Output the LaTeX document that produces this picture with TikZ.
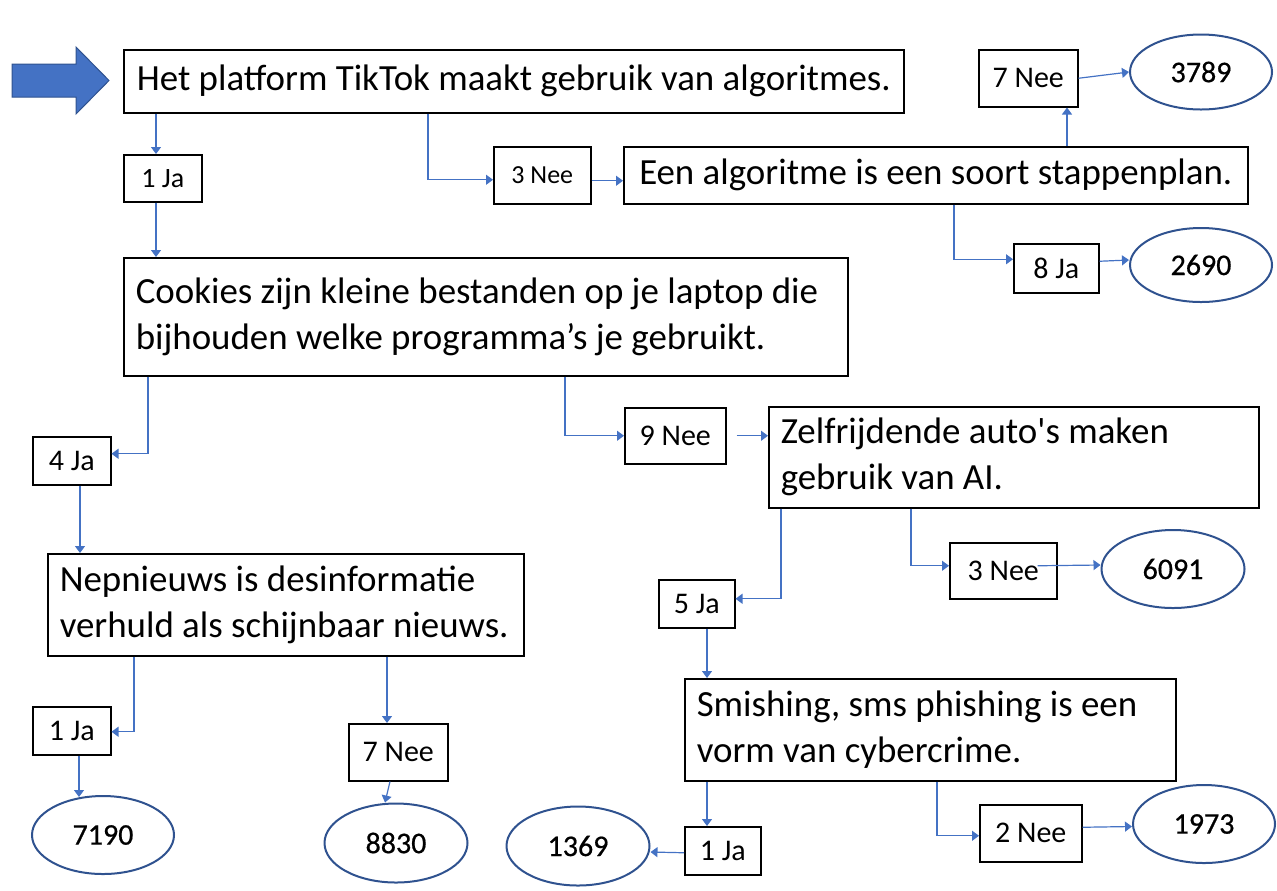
\documentclass[tikz,border=0pt]{standalone}
\usepackage{fontspec}
\setmainfont{Carlito}
\newfontfamily\codefont[FakeBold=0.6]{Carlito}
\usetikzlibrary{calc,shapes.geometric,arrows.meta}
\definecolor{linkblue}{HTML}{4472C4}
\definecolor{ovalblue}{HTML}{2F528F}
\begin{document}
\begin{tikzpicture}[x=0.5pt,y=-0.5pt,
  wide/.style 2 args={minimum width=#1*0.5pt, minimum height=#2*0.5pt},
  statement/.style={draw=black, line width=0.75pt, inner xsep=6pt, inner ysep=0pt,
    anchor=north west, font=\fontsize{18.45}{23}\selectfont},
  twoline/.style={text width=#1, align=flush left},
  labelbox/.style={draw=black, line width=0.75pt, inner sep=0pt, anchor=north west,
    font=\fontsize{15}{18}\selectfont},
  oval/.style={ellipse, draw=ovalblue, line width=1pt, inner sep=0pt,
    font=\codefont\fontsize{15}{18}\selectfont},
  conn/.style={draw=linkblue, line width=0.6pt, -{Triangle[length=3.5pt,width=5pt]}}
]
\useasboundingbox (0,0) rectangle (1277,890);

% start arrow
\draw[fill=linkblue, draw=ovalblue, line width=0.5pt]
  (12,64) -- (76,64) -- (76,47) -- (109,80.5) -- (76,114) -- (76,97) -- (12,97) -- cycle;

% statements, answers and codes
\node[statement, wide={780}{63}] (tiktok) at (123,49) {Het platform TikTok maakt gebruik van algoritmes.};
\node[labelbox, wide={78}{47}, font=\fontsize{14}{17}\selectfont] (ja1) at (123,154) {1 Ja};
\node[labelbox, wide={97}{57}, font=\fontsize{13}{16}\selectfont] (nee3a) at (493,146) {3 Nee};
\node[statement, wide={624}{57}] (algo) at (623,146) {Een algoritme is een soort stappenplan.};
\node[labelbox, wide={99}{57}] (nee7a) at (978,49) {7 Nee};
\node[oval, wide={142}{75}] (n3789) at (1201,72) {3789};
\node[labelbox, wide={85}{49}] (ja8) at (1013,243) {8 Ja};
\node[oval, wide={142}{74}] (n2690) at (1201,265) {2690};
\node[statement, wide={724}{118}, twoline=350pt] (cookies) at (123,257)
  {Cookies zijn kleine bestanden op je laptop die\\bijhouden welke programma’s je gebruikt.};
\node[labelbox, wide={78}{48}] (ja4) at (32,436) {4 Ja};
\node[statement, wide={476}{102}, twoline=226pt] (nep) at (47,553)
  {Nepnieuws is desinformatie\\verhuld als schijnbaar nieuws.};
\node[labelbox, wide={78}{48}] (ja1b) at (32,706) {1 Ja};
\node[oval, wide={142}{78}] (n7190) at (103,835) {7190};
\node[labelbox, wide={99}{57}] (nee7b) at (348,723) {7 Nee};
\node[oval, wide={143}{79}] (n8830) at (396,843) {8830};
\node[labelbox, wide={101}{56}] (nee9) at (624,407) {9 Nee};
\node[statement, wide={490}{101}, twoline=233pt] (auto) at (768,406)
  {Zelfrijdende auto\textquotesingle s maken\\gebruik van AI.};
\node[labelbox, wide={76}{48}] (ja5) at (658,579) {5 Ja};
\node[labelbox, wide={107}{56}] (nee3b) at (949,542) {3 Nee};
\node[oval, wide={143}{78}] (n6091) at (1173,569) {6091};
\node[statement, wide={491}{102}, twoline=233.5pt] (smish) at (684,678)
  {Smishing, sms phishing is een\\vorm van cybercrime.};
\node[labelbox, wide={76}{48}] (ja1c) at (684,826) {1 Ja};
\node[oval, wide={143}{79}] (n1369) at (578,846) {1369};
\node[labelbox, wide={102}{57}] (nee2) at (979,804) {2 Nee};
\node[oval, wide={142}{78}] (n1973) at (1204,824) {1973};

% connectors
\draw[conn] ($(tiktok.south west)+(33,0)$) -- ($(ja1.north west)+(33,0)$);
\draw[conn] ($(tiktok.south west)+(305,0)$) |- ($(nee3a.west)+(0,4.5)$);
\draw[conn] ($(nee3a.east)+(0,5.5)$) -- ($(algo.west)+(0,5.5)$);
\draw[conn] ($(algo.north west)+(444,0)$) -- ($(nee7a.south west)+(89,0)$);
\draw[conn] (nee7a.east) -- (n3789.west);
\draw[conn] ($(algo.south west)+(331,0)$) |- ($(ja8.west)+(0,-9)$);
\draw[conn] ($(ja8.east)+(0,-7)$) -- ($(n2690.west)+(0,-5)$);
\draw[conn] ($(ja1.south west)+(33,0)$) -- ($(cookies.north west)+(33,0)$);
\draw[conn] ($(cookies.south west)+(25,0)$) |- ($(ja4.east)+(0,-7)$);
\draw[conn] ($(ja4.south west)+(48,0)$) -- ($(nep.north west)+(33,0)$);
\draw[conn] ($(nep.south west)+(87,0)$) |- ($(ja1b.east)+(0,1)$);
\draw[conn] ($(ja1b.south west)+(47,0)$) -- ($(n7190.north)+(-24,2)$);
\draw[conn] ($(nep.south west)+(340,0)$) -- ($(nee7b.north west)+(39,0)$);
\draw[conn] ($(nee7b.south west)+(42,0)$) -- ($(n8830.north)+(-11,0)$);
\draw[conn] ($(cookies.south west)+(442,0)$) |- (nee9.west);
\draw[conn] ($(nee9.east)+(10,0)$) -- ($(auto.west)+(0,-21.5)$);
\draw[conn] ($(auto.south west)+(13,0)$) |- ($(ja5.east)+(0,-5)$);
\draw[conn] ($(auto.south west)+(143,0)$) |- ($(nee3b.west)+(0,-5)$);
\draw[conn] ($(nee3b.east)+(-20,-5)$) -- ($(n6091.west)+(0,-4)$);
\draw[conn] ($(ja5.south west)+(49,0)$) -- ($(smish.north west)+(23,0)$);
\draw[conn] ($(smish.south west)+(23,0)$) -- ($(ja1c.north west)+(23,0)$);
\draw[conn] ($(ja1c.west)+(0,2)$) -- ($(n1369.east)+(0,6)$);
\draw[conn] ($(smish.south west)+(253,0)$) |- ($(nee2.west)+(0,2.5)$);
\draw[conn] ($(nee2.east)+(0,-6)$) -- ($(n1973.west)+(0,2.5)$);
\end{tikzpicture}
\end{document}
